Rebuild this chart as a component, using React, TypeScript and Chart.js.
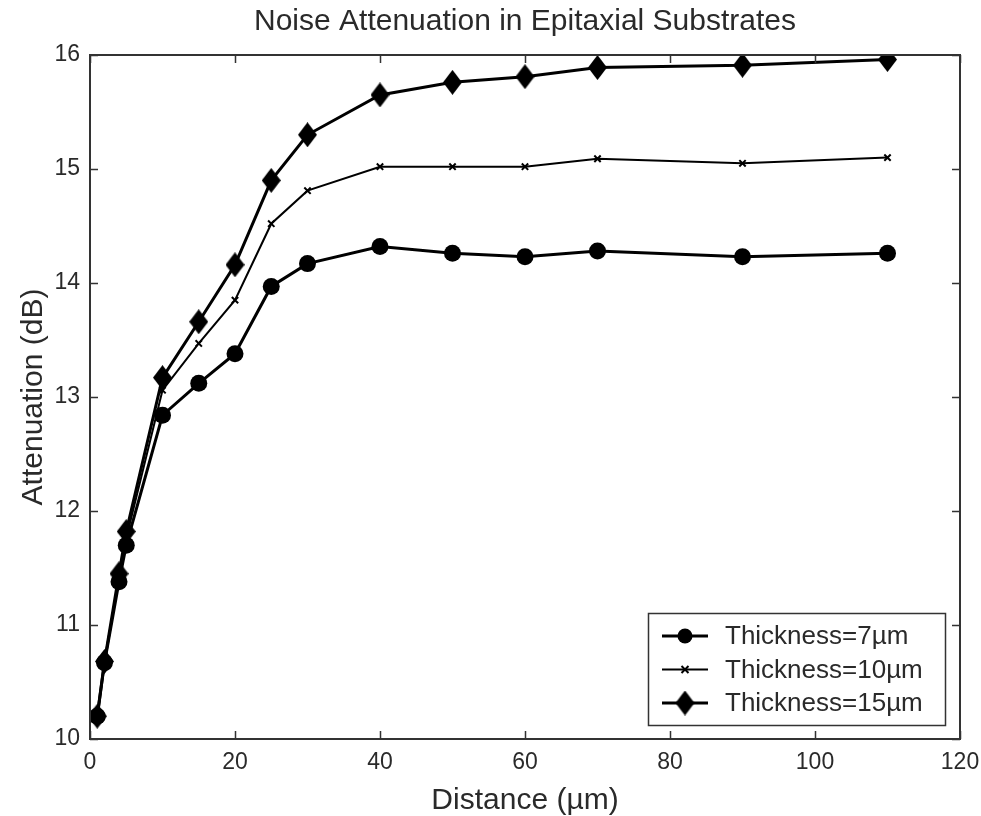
import React, { useEffect, useRef } from "react";
import { Chart, registerables } from "chart.js";

Chart.register(...registerables);

// Distance from the noise injector (µm)
const distances = [1, 2, 4, 5, 10, 15, 20, 25, 30, 40, 50, 60, 70, 90, 110];

// Attenuation (dB) for each epitaxial layer thickness
const thickness7 = [10.2, 10.67, 11.38, 11.7, 12.84, 13.12, 13.38, 13.97, 14.17, 14.32, 14.26, 14.23, 14.28, 14.23, 14.26];
const thickness10 = [10.2, 10.67, 11.42, 11.76, 13.06, 13.47, 13.85, 14.52, 14.81, 15.02, 15.02, 15.02, 15.09, 15.05, 15.1];
const thickness15 = [10.2, 10.68, 11.45, 11.82, 13.17, 13.66, 14.16, 14.9, 15.3, 15.65, 15.76, 15.81, 15.89, 15.91, 15.96];

const seriesLabels = ["Thickness=7µm", "Thickness=10µm", "Thickness=15µm"];
const chartTitle = "Noise Attenuation in Epitaxial Substrates";

const xTicks = [0, 20, 40, 60, 80, 100, 120];
const yTicks = [10, 11, 12, 13, 14, 15, 16];

const FONT = '"Liberation Sans", Arial, sans-serif';
const INK = "#000";
const TEXT = "#2a2a2a";
const FRAME = "#333";

// Tall diamond marker
function makeDiamond(w: number, h: number): HTMLCanvasElement {
  const c = document.createElement("canvas");
  c.width = w;
  c.height = h;
  const g = c.getContext("2d")!;
  g.fillStyle = INK;
  g.beginPath();
  g.moveTo(w / 2, 0);
  g.lineTo(w, h / 2);
  g.lineTo(w / 2, h);
  g.lineTo(0, h / 2);
  g.closePath();
  g.fill();
  return c;
}

// Title centred over the plot area
const plotTitle = {
  id: "plotTitle",
  afterDraw(chart: any) {
    const { ctx, chartArea: a } = chart;
    ctx.save();
    ctx.fillStyle = TEXT;
    ctx.font = `30px ${FONT}`;
    ctx.textAlign = "center";
    ctx.textBaseline = "middle";
    ctx.fillText(chartTitle, (a.left + a.right) / 2, 22);
    ctx.restore();
  },
};

// Box around the plot with inward tick marks on every side
const frameTicks = {
  id: "frameTicks",
  afterDatasetsDraw(chart: any) {
    const { ctx, chartArea: a, scales } = chart;
    const len = 8;
    ctx.save();
    ctx.strokeStyle = FRAME;
    ctx.lineWidth = 1.5;
    ctx.beginPath();
    for (const v of xTicks) {
      const px = Math.round(scales.x.getPixelForValue(v)) + 0.5;
      ctx.moveTo(px, a.bottom);
      ctx.lineTo(px, a.bottom - len);
      ctx.moveTo(px, a.top);
      ctx.lineTo(px, a.top + len);
    }
    for (const v of yTicks) {
      const py = Math.round(scales.y.getPixelForValue(v)) + 0.5;
      ctx.moveTo(a.left, py);
      ctx.lineTo(a.left + len, py);
      ctx.moveTo(a.right, py);
      ctx.lineTo(a.right - len, py);
    }
    ctx.stroke();
    ctx.lineWidth = 2;
    ctx.strokeRect(a.left, a.top, a.right - a.left, a.bottom - a.top);
    ctx.restore();
  },
};

// Legend box in the lower-right corner of the plot area
const boxLegend = {
  id: "boxLegend",
  afterDraw(chart: any) {
    const { ctx, chartArea: a } = chart;
    const right = a.right - 15;
    const bottom = a.bottom - 14;
    const w = 297;
    const h = 112;
    const left = right - w;
    const top = bottom - h;
    ctx.save();
    ctx.fillStyle = "#fff";
    ctx.fillRect(left, top, w, h);
    ctx.strokeStyle = FRAME;
    ctx.lineWidth = 1.5;
    ctx.strokeRect(left + 0.5, top + 0.5, w, h);
    ctx.font = `26px ${FONT}`;
    ctx.textBaseline = "middle";
    chart.data.datasets.forEach((ds: any, i: number) => {
      const cy = top + 23 + i * 33.5;
      const x0 = left + 14;
      const x1 = left + 60;
      const cx = left + 37;
      ctx.strokeStyle = INK;
      ctx.lineWidth = ds.borderWidth;
      ctx.beginPath();
      ctx.moveTo(x0, cy);
      ctx.lineTo(x1, cy);
      ctx.stroke();
      const ps = ds.pointStyle;
      if (ps instanceof HTMLCanvasElement) {
        ctx.drawImage(ps, cx - ps.width / 2, cy - ps.height / 2);
      } else if (ps === "circle") {
        ctx.fillStyle = INK;
        ctx.beginPath();
        ctx.arc(cx, cy, 7.5, 0, Math.PI * 2);
        ctx.fill();
      } else {
        const r = 3.5;
        ctx.lineWidth = 2;
        ctx.beginPath();
        ctx.moveTo(cx - r, cy - r);
        ctx.lineTo(cx + r, cy + r);
        ctx.moveTo(cx + r, cy - r);
        ctx.lineTo(cx - r, cy + r);
        ctx.stroke();
      }
      ctx.fillStyle = TEXT;
      ctx.fillText(ds.label, left + 77, cy + 1);
    });
    ctx.restore();
  },
};

export default function App() {
  const ref = useRef<HTMLCanvasElement | null>(null);

  useEffect(() => {
    if (!ref.current) return;
    const diamond = makeDiamond(19, 25);
    const chart = new Chart(ref.current, {
      type: "line",
      data: {
        datasets: [
          {
            label: seriesLabels[0],
            data: distances.map((x, i) => ({ x, y: thickness7[i] })),
            borderColor: INK,
            backgroundColor: INK,
            borderWidth: 3,
            pointStyle: "circle",
            pointRadius: 8.5,
            pointBorderWidth: 0,
          },
          {
            label: seriesLabels[1],
            data: distances.map((x, i) => ({ x, y: thickness10[i] })),
            borderColor: INK,
            backgroundColor: INK,
            borderWidth: 2,
            pointStyle: "crossRot",
            pointRadius: 4.5,
            pointBorderWidth: 2,
          },
          {
            label: seriesLabels[2],
            data: distances.map((x, i) => ({ x, y: thickness15[i] })),
            borderColor: INK,
            backgroundColor: INK,
            borderWidth: 3,
            pointStyle: diamond as any,
            pointRadius: 10,
            pointBorderWidth: 0,
          },
        ],
      },
      options: {
        responsive: false,
        animation: false,
        devicePixelRatio: 1,
        layout: { padding: { left: 0, right: 21, top: 55, bottom: 0 } },
        elements: { line: { tension: 0 } },
        plugins: {
          legend: { display: false },
          tooltip: { enabled: false },
          title: { display: false },
        },
        scales: {
          x: {
            type: "linear",
            min: 0,
            max: 120,
            afterBuildTicks: (s: any) => {
              s.ticks = xTicks.map((v) => ({ value: v }));
            },
            afterFit: (s: any) => {
              s.height = 77;
              s.paddingLeft = 0;
              s.paddingRight = 0;
            },
            grid: { display: false, drawTicks: false },
            border: { display: false },
            ticks: {
              color: TEXT,
              padding: 10,
              maxRotation: 0,
              font: { family: FONT, size: 23 },
            },
            title: {
              display: true,
              text: "Distance (µm)",
              color: TEXT,
              font: { family: FONT, size: 30, lineHeight: 1 },
              padding: { top: 0, bottom: 0 },
            },
          },
          y: {
            type: "linear",
            min: 10,
            max: 16,
            afterBuildTicks: (s: any) => {
              s.ticks = yTicks.map((v) => ({ value: v }));
            },
            afterFit: (s: any) => {
              s.width = 90;
              s.paddingTop = 0;
              s.paddingBottom = 0;
            },
            grid: { display: false, drawTicks: false },
            border: { display: false },
            ticks: {
              color: TEXT,
              padding: 10,
              font: { family: FONT, size: 23 },
            },
            title: {
              display: true,
              text: "Attenuation (dB)",
              color: TEXT,
              font: { family: FONT, size: 30, lineHeight: 1.2 },
              padding: { top: 16, bottom: 4 },
            },
          },
        },
      },
      plugins: [frameTicks, boxLegend, plotTitle],
    });
    return () => chart.destroy();
  }, []);

  return (
    <div style={{ position: "absolute", left: 0, top: 0, width: 981, height: 816, background: "#fff" }}>
      <canvas ref={ref} width={981} height={816} />
    </div>
  );
}
